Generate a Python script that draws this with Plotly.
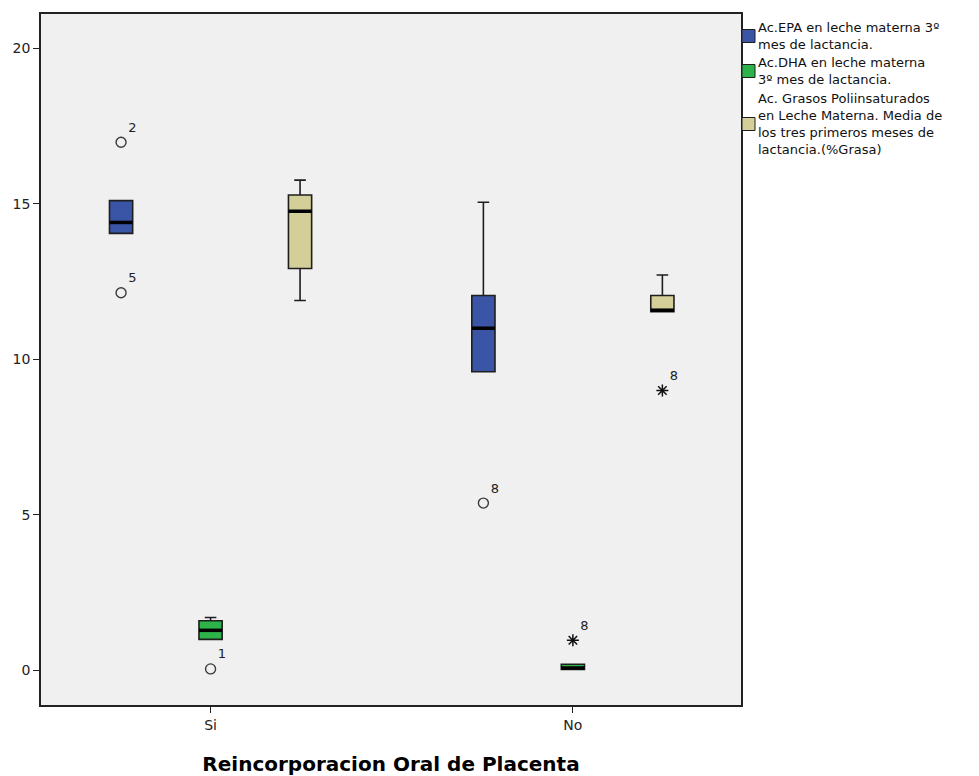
import plotly.graph_objects as go

# ---------------- data ----------------
categories = ["Si", "No"]
series_names = [
    "Ac.EPA en leche materna 3º mes de lactancia.",
    "Ac.DHA en leche materna 3º mes de lactancia.",
    "Ac. Grasos Poliinsaturados en Leche Materna. Media de los tres primeros meses de lactancia.(%Grasa)",
]
legend_text = [
    "Ac.EPA en leche materna 3º<br>mes de lactancia.",
    "Ac.DHA en leche materna<br>3º mes de lactancia.",
    "Ac. Grasos Poliinsaturados<br>en Leche Materna. Media de<br>los tres primeros meses de<br>lactancia.(%Grasa)",
]

# box statistics per series, per category [Si, No]
epa_low = [14.05, 9.60]
epa_q1 = [14.05, 9.60]
epa_med = [14.40, 11.00]
epa_q3 = [15.10, 12.05]
epa_high = [15.10, 15.05]

dha_low = [1.00, 0.03]
dha_q1 = [1.00, 0.03]
dha_med = [1.29, 0.08]
dha_q3 = [1.60, 0.20]
dha_high = [1.70, 0.20]

pufa_low = [11.89, 11.53]
pufa_q1 = [12.92, 11.53]
pufa_med = [14.76, 11.58]
pufa_q3 = [15.28, 12.05]
pufa_high = [15.76, 12.71]

# outliers (circle) and extremes (star): series index, category, value, case label
outlier_series = [0, 0, 0, 1]
outlier_cat = ["Si", "Si", "No", "Si"]
outlier_val = [16.98, 12.14, 5.38, 0.05]
outlier_lab = ["2", "5", "8", "1"]

extreme_series = [1, 2]
extreme_cat = ["No", "No"]
extreme_val = [0.97, 9.00]
extreme_lab = ["8", "8"]

# ---------------- style ----------------
colors = ["#3A54A6", "#2DB34A", "#D4CF98"]
offsets = [-0.247, 0.0, 0.247]
box_w = 0.064
FONT = "DejaVu Sans"

stats = [
    (epa_low, epa_q1, epa_med, epa_q3, epa_high),
    (dha_low, dha_q1, dha_med, dha_q3, dha_high),
    (pufa_low, pufa_q1, pufa_med, pufa_q3, pufa_high),
]
cat_pos = {c: i for i, c in enumerate(categories)}

fig = go.Figure()

for s, (lo, q1, med, q3, hi) in enumerate(stats):
    xs = [cat_pos[c] + offsets[s] for c in categories]
    fig.add_trace(go.Box(
        x=xs, q1=q1, median=med, q3=q3, lowerfence=lo, upperfence=hi,
        width=box_w, whiskerwidth=0.5,
        fillcolor=colors[s], line=dict(color="#1E1E1E", width=1.6),
        name=series_names[s], showlegend=False, hoverinfo="skip",
    ))
    # thick median line
    mx, my = [], []
    for x, m in zip(xs, med):
        mx += [x - box_w / 2, x + box_w / 2, None]
        my += [m, m, None]
    fig.add_trace(go.Scatter(x=mx, y=my, mode="lines",
                             line=dict(color="black", width=3.5),
                             showlegend=False, hoverinfo="skip"))

# outliers
fig.add_trace(go.Scatter(
    x=[cat_pos[c] + offsets[s] for s, c in zip(outlier_series, outlier_cat)],
    y=outlier_val, text=outlier_lab, mode="markers+text",
    textposition="top right",
    textfont=dict(family=FONT, size=13, color="#222222"),
    marker=dict(symbol="circle-open", size=10, color="#3A3A3A",
                line=dict(width=1.4, color="#3A3A3A")),
    showlegend=False, hoverinfo="skip"))
fig.add_trace(go.Scatter(
    x=[cat_pos[c] + offsets[s] for s, c in zip(extreme_series, extreme_cat)],
    y=extreme_val, text=extreme_lab, mode="markers+text",
    textposition="top right",
    textfont=dict(family=FONT, size=13, color="#222222"),
    marker=dict(symbol="asterisk-open", size=10, color="#111111",
                line=dict(width=1.5, color="#111111")),
    showlegend=False, hoverinfo="skip"))

# ---------------- layout (pixel targets in the 979x776 screenshot) ----------------
OFF = 8                      # page body margin
W, H = 979 - OFF, 776 - OFF
L, R, T, B = 41 - OFF, 741 - OFF, 14 - OFF, 705 - OFF
pw, ph = R - L, B - T


def px_x(x):
    return (x - OFF - L) / pw


def px_y(y):
    return (B - (y - OFF)) / ph


item_center = [36, 71, 124]
shapes = []
annotations = []
for s in range(3):
    cy = item_center[s]
    shapes.append(dict(type="rect", xref="paper", yref="paper",
                       x0=px_x(742), x1=px_x(755), y0=px_y(cy + 6.5), y1=px_y(cy - 6.5),
                       fillcolor=colors[s], line=dict(color="#1E1E1E", width=1)))
    annotations.append(dict(xref="paper", yref="paper", x=px_x(756), y=px_y(cy),
                            xanchor="left", yanchor="middle", align="left",
                            text=legend_text[s], showarrow=False,
                            font=dict(family=FONT, size=13, color="#111111")))

fig.update_layout(
    width=W, height=H,
    margin=dict(l=L, r=W - R, t=T, b=H - B, autoexpand=False),
    paper_bgcolor="white", plot_bgcolor="#F0F0F0",
    boxmode="overlay",
    showlegend=False,
    shapes=shapes, annotations=annotations,
    font=dict(family=FONT, size=14, color="#222222"),
    xaxis=dict(range=[-0.468, 1.464], tickmode="array",
               tickvals=list(range(len(categories))), ticktext=categories,
               ticks="outside", ticklen=6, tickwidth=1.3, tickcolor="#222222",
               showline=True, mirror=True, linecolor="#222222", linewidth=1.5,
               showgrid=False, zeroline=False,
               tickfont=dict(family=FONT, size=14, color="#222222"),
               title=dict(text="<b>Reincorporacion Oral de Placenta</b>",
                          font=dict(family=FONT, size=20, color="black"),
                          standoff=26)),
    yaxis=dict(range=[-1.11, 21.1], tickmode="array",
               tickvals=[0, 5, 10, 15, 20],
               ticks="outside", ticklen=6, tickwidth=1.3, tickcolor="#222222",
               showline=True, mirror=True, linecolor="#222222", linewidth=1.5,
               showgrid=False, zeroline=False,
               tickfont=dict(family=FONT, size=14, color="#222222")),
)

fig.write_html("out.html")
